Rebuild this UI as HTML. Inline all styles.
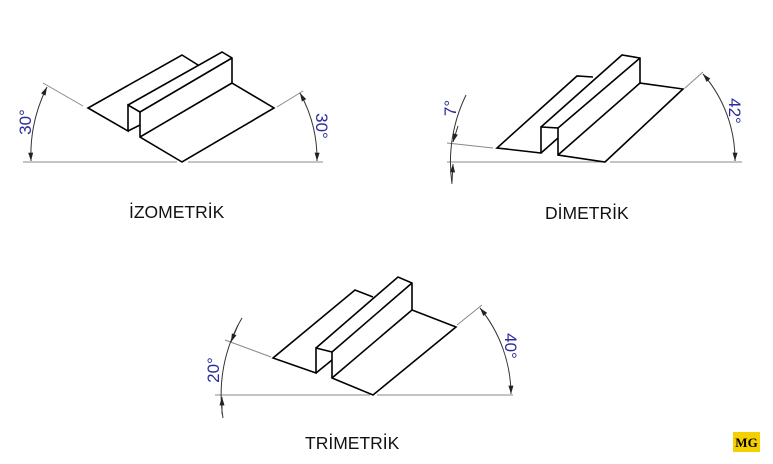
<!DOCTYPE html>
<html><head><meta charset="utf-8"><style>
html,body{margin:0;padding:0;background:#fff;}
svg{display:block;}
text{font-family:"Liberation Sans",sans-serif;}
</style></head><body>
<svg width="773" height="464" viewBox="0 0 773 464" xmlns="http://www.w3.org/2000/svg">
<defs>
<marker id="a" viewBox="0 0 10 6" refX="10" refY="3" markerWidth="9" markerHeight="5" markerUnits="userSpaceOnUse" orient="auto-start-reverse"><path d="M0,0 L10,3 L0,6 z" fill="#222"/></marker>
</defs>
<g stroke="#888" stroke-width="1" fill="none">
<line x1="23" y1="162" x2="177" y2="162"/><line x1="188" y1="162" x2="323" y2="162"/>
<line x1="43" y1="83" x2="83" y2="106"/><line x1="277" y1="107" x2="303" y2="91"/>
<line x1="447" y1="162" x2="605" y2="162"/><line x1="610" y1="162" x2="742" y2="162"/>
<line x1="447" y1="143" x2="493" y2="148"/><line x1="685" y1="88" x2="703" y2="72"/>
<line x1="215" y1="395" x2="370" y2="395"/><line x1="377" y1="395" x2="513" y2="395"/>
<line x1="225" y1="340" x2="271" y2="357"/><line x1="457" y1="325" x2="482" y2="305"/>
</g>
<g stroke="#333" stroke-width="1" fill="none">
<path d="M47,87 A152,152 0 0 0 31,161" marker-start="url(#a)" marker-end="url(#a)"/>
<path d="M300,93 A137,137 0 0 1 317,161" marker-start="url(#a)" marker-end="url(#a)"/>
<path d="M466,95 A153,153 0 0 0 452,184" />
<path d="M458,126 L453,142" marker-end="url(#a)"/>
<path d="M452,182 L453,164" marker-end="url(#a)"/>
<path d="M703,74 A131,131 0 0 1 735,161" marker-start="url(#a)" marker-end="url(#a)"/>
<path d="M242,318 A150,150 0 0 0 223,418"/>
<path d="M238,325 L231,342" marker-end="url(#a)"/>
<path d="M222,414 L222,397" marker-end="url(#a)"/>
<path d="M480,308 A138,138 0 0 1 511,394" marker-start="url(#a)" marker-end="url(#a)"/>
</g>
<g stroke="#000" stroke-width="1.6" fill="none" stroke-linejoin="miter">
<polyline points="198,65 182,55 88,108 128,131 128,105 140,112 140,137 182,162 274,108 232,83 232,58 222,52 128,105"/>
<line x1="140" y1="112" x2="232" y2="58"/>
<line x1="140" y1="137" x2="232" y2="83"/>
<line x1="128" y1="131" x2="140" y2="125"/>
<polyline points="593,77 577,76 497,148 541,153 541,127 558,128 558,155 605,162 683,89 640,83 640,58 622,55 541,127"/>
<line x1="558" y1="128" x2="640" y2="58"/>
<line x1="558" y1="155" x2="640" y2="83"/>
<line x1="541" y1="153" x2="558" y2="138"/>
<polyline points="373,297 355,290 273,358 316,373 316,348 332,352 332,378 373,395 456,327 412,310 412,283 398,277 316,348"/>
<line x1="332" y1="352" x2="412" y2="283"/>
<line x1="332" y1="378" x2="412" y2="310"/>
<line x1="316" y1="373" x2="332" y2="360"/>
</g>
<g fill="#2b2b9c" font-size="17">
<text transform="translate(31,122) rotate(-90)" text-anchor="middle">30°</text>
<text transform="translate(316,126) rotate(90)" text-anchor="middle">30°</text>
<text transform="translate(456,108) rotate(-90)" text-anchor="middle">7°</text>
<text transform="translate(729,111) rotate(90)" text-anchor="middle">42°</text>
<text transform="translate(219,370) rotate(-90)" text-anchor="middle">20°</text>
<text transform="translate(505,346) rotate(90)" text-anchor="middle">40°</text>
</g>
<g fill="#111" font-size="17.5">
<text x="129" y="218">İZOMETRİK</text>
<text x="545" y="219">DİMETRİK</text>
<text x="305" y="449">TRİMETRİK</text>
</g>
<rect x="733" y="432" width="27" height="20" fill="#f5d000"/>
<text x="746.5" y="447" text-anchor="middle" font-weight="bold" font-size="13" fill="#000" style="font-family:'Liberation Serif',serif">MG</text>
</svg>
</body></html>
